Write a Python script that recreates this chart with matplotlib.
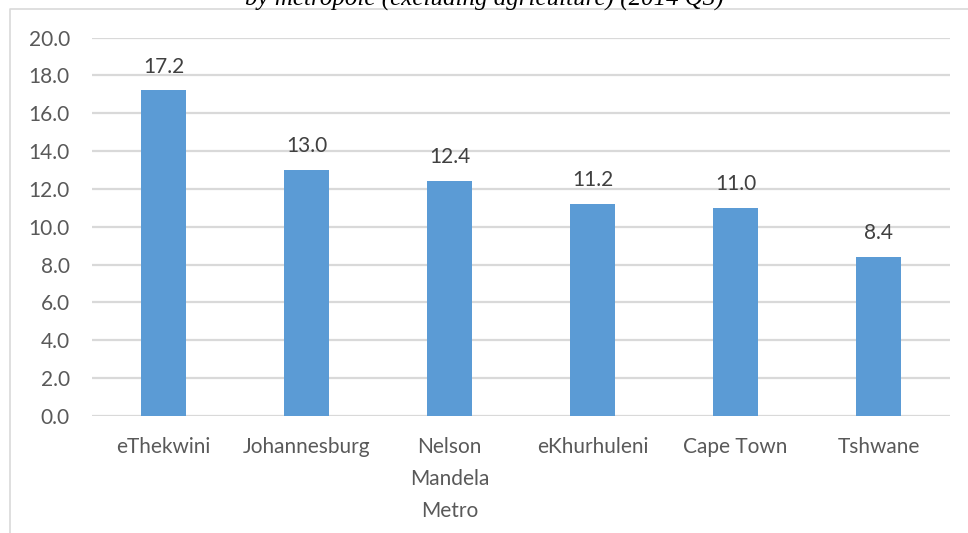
import matplotlib.pyplot as plt
from matplotlib.lines import Line2D

# Unemployment rate by metro (excluding agriculture), 2014 Q3
metros = ["eThekwini", "Johannesburg", "Nelson\nMandela\nMetro", "eKhurhuleni", "Cape Town", "Tshwane"]
rates = [17.2, 13.0, 12.4, 11.2, 11.0, 8.4]
y_ticks = [0, 2, 4, 6, 8, 10, 12, 14, 16, 18, 20]

BAR_COLOR = "#5B9BD5"
GRID_COLOR = "#D9D9D9"
TICK_COLOR = "#595959"
LABEL_COLOR = "#404040"

plt.rcParams['font.family'] = ['Lato', 'DejaVu Sans']

W, H = 968, 533
fig = plt.figure(figsize=(W / 100, H / 100), dpi=100)
ax = fig.add_axes([92 / W, 1 - 416 / H, (950 - 92) / W, (416 - 37.5) / H])

x = range(len(metros))
bars = ax.bar(x, rates, width=0.31, color=BAR_COLOR, zorder=3)
for b, v in zip(bars, rates):
    ax.annotate(f"{v:.1f}", (b.get_x() + b.get_width() / 2, v),
                xytext=(0, 10), textcoords="offset points",
                ha="center", va="bottom", fontsize=15, color=LABEL_COLOR)

ax.set_xlim(-0.5, len(metros) - 0.5)
ax.set_ylim(0, 20)
ax.set_yticks(y_ticks)
ax.set_yticklabels([f"{t:.1f}" for t in y_ticks])
ax.set_xticks(list(x))
ax.set_xticklabels(metros, linespacing=1.75)
ax.tick_params(axis="both", length=0, labelsize=15, labelcolor=TICK_COLOR)
ax.tick_params(axis="y", pad=16)
ax.tick_params(axis="x", pad=15)
ax.grid(axis="y", color=GRID_COLOR, linewidth=1.6, zorder=0)
for s in ax.spines.values():
    s.set_visible(False)

# outer chart frame (only left and top edges fall inside the image)
fig.add_artist(Line2D([10 / W, 10 / W, 1.0], [0.0, 1 - 9 / H, 1 - 9 / H],
                      transform=fig.transFigure, color=GRID_COLOR, linewidth=1.2))

# caption sitting above the chart, mostly off the top edge
fig.text(0.5, 1 - 6 / H, "by metropole (excluding agriculture) (2014 Q3)",
         ha="center", va="baseline", fontsize=18, style="italic",
         family=["Liberation Serif", "DejaVu Serif"], color="black")

fig.savefig("out.png", dpi=100)
